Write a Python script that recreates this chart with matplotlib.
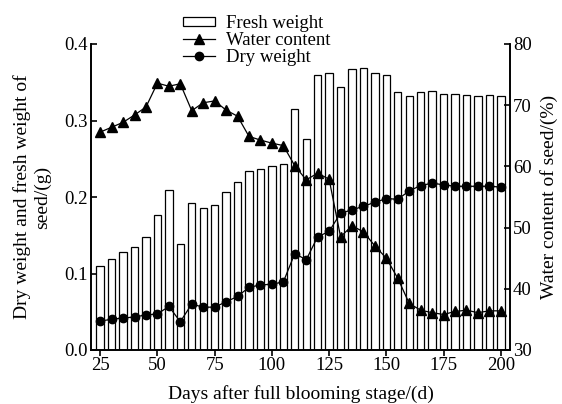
import matplotlib
matplotlib.use("Agg")
import matplotlib.pyplot as plt
from matplotlib.patches import Patch
from matplotlib.lines import Line2D

plt.rcParams['font.family'] = ['Liberation Serif', 'DejaVu Serif']

days = list(range(25, 205, 5))
fresh_weight = [0.110, 0.119, 0.128, 0.135, 0.148, 0.176, 0.209, 0.139, 0.192, 0.186,
                0.189, 0.206, 0.220, 0.234, 0.236, 0.240, 0.243, 0.315, 0.276, 0.360,
                0.362, 0.344, 0.367, 0.369, 0.362, 0.359, 0.337, 0.332, 0.337, 0.339,
                0.335, 0.334, 0.333, 0.332, 0.333, 0.332]
water_content = [65.6, 66.4, 67.2, 68.4, 69.7, 73.6, 73.1, 73.5, 69.1, 70.4,
                 70.7, 69.2, 68.2, 64.9, 64.3, 63.8, 63.4, 60.1, 57.8, 58.9,
                 57.9, 48.5, 50.3, 49.3, 47.0, 45.0, 41.7, 37.6, 36.5, 36.1,
                 35.8, 36.3, 36.5, 36.1, 36.4, 36.4]
dry_weight = [0.038, 0.040, 0.042, 0.043, 0.046, 0.047, 0.057, 0.037, 0.060, 0.056,
              0.056, 0.063, 0.070, 0.082, 0.085, 0.086, 0.089, 0.126, 0.118, 0.148,
              0.155, 0.179, 0.183, 0.188, 0.193, 0.198, 0.197, 0.208, 0.215, 0.218,
              0.216, 0.214, 0.214, 0.214, 0.214, 0.213]

fs = 13.5
fig = plt.figure(figsize=(5.62, 4.04), dpi=100)
ax = fig.add_axes([91/562, 1-350/404, (510-91)/562, (350-44)/404])
ax2 = ax.twinx()

ax.bar(days, fresh_weight, width=3.2, facecolor='white', edgecolor='black', linewidth=0.9, zorder=2)
ax.plot(days, dry_weight, color='black', marker='o', markersize=6, linewidth=0.9, zorder=3)
ax2.plot(days, water_content, color='black', marker='^', markersize=7.5, linewidth=0.9, zorder=3)

ax.set_xlim(21, 204)
ax.set_ylim(0, 0.4)
ax2.set_ylim(30, 80)
ax.set_xticks(range(25, 201, 25))
ax.set_yticks([0.0, 0.1, 0.2, 0.3, 0.4])
ax.set_yticklabels(['0.0', '0.1', '0.2', '0.3', '0.4'])
ax2.set_yticks(range(30, 81, 10))

for a in (ax, ax2):
    a.spines['top'].set_visible(False)
    for s in a.spines.values():
        s.set_linewidth(1.2)
ax.tick_params(axis='y', direction='in', length=4, width=1.2, labelsize=fs, pad=2)
ax.tick_params(axis='x', direction='out', length=4, width=1.2, labelsize=fs, pad=1)
ax2.tick_params(axis='y', direction='in', length=4, width=1.2, labelsize=fs, pad=2)

ax.set_xlabel('Days after full blooming stage/(d)', fontsize=14, labelpad=8)
ax.set_ylabel('Dry weight and fresh weight of\nseed/(g)', fontsize=14, linespacing=1.25)
ax.yaxis.set_label_coords(-0.095, 0.5)
ax2.set_ylabel('Water content of seed/(%)', fontsize=14, labelpad=6.5)

handles = [Patch(facecolor='white', edgecolor='black', linewidth=0.9),
           Line2D([], [], color='black', marker='^', markersize=7, linewidth=0.9),
           Line2D([], [], color='black', marker='o', markersize=6, linewidth=0.9)]
labels = ['Fresh weight', 'Water content', 'Dry weight']
fig.legend(handles, labels, loc='upper left', bbox_to_anchor=(183/562, 1-15/404),
           frameon=False, fontsize=13.5, handlelength=1.7, handleheight=0.35,
           labelspacing=0.0, handletextpad=0.6, borderpad=0.0, borderaxespad=0.0)

fig.savefig('out.png', dpi=100)
